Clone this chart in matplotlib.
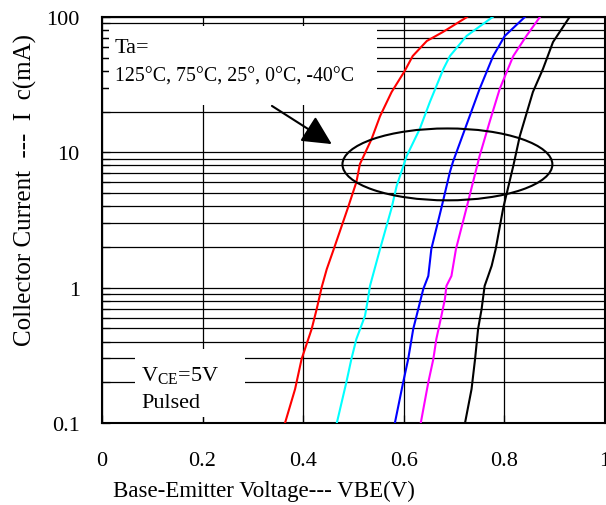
import numpy as np
import matplotlib
matplotlib.use('Agg')
import matplotlib.pyplot as plt
from matplotlib.patches import Rectangle, Ellipse
from matplotlib.ticker import LogLocator, FixedLocator, NullFormatter

plt.rcParams['font.family'] = ['Liberation Serif', 'DejaVu Serif']
plt.rcParams['mathtext.fontset'] = 'custom'
plt.rcParams['mathtext.rm'] = 'Liberation Serif'

# VBE (V) vs collector current (mA)
vbe_125 = [0.364, 0.384, 0.397, 0.417, 0.427, 0.437, 0.447, 0.461, 0.489, 0.506,
           0.513, 0.536, 0.553, 0.576, 0.602, 0.618, 0.646, 0.678, 0.726]
ic_125 = [0.1, 0.178, 0.297, 0.495, 0.695, 1.01, 1.37, 1.93, 3.88, 6.04,
          8.2, 12.5, 18.5, 27.9, 39.9, 51.5, 66.5, 77.5, 100]

vbe_75 = [0.467, 0.486, 0.496, 0.506, 0.523, 0.529, 0.533, 0.553, 0.576, 0.586,
          0.606, 0.632, 0.652, 0.679, 0.692, 0.725, 0.777]
ic_75 = [0.1, 0.2, 0.297, 0.418, 0.618, 0.824, 1.03, 1.93, 3.88, 5.64,
         9.4, 14.9, 23.5, 41.3, 51.5, 72.4, 100]

vbe_25 = [0.5825, 0.599, 0.609, 0.619, 0.629, 0.639, 0.649, 0.655, 0.675, 0.692,
          0.698, 0.722, 0.751, 0.778, 0.801, 0.841]
ic_25 = [0.1, 0.2, 0.297, 0.495, 0.695, 0.977, 1.22, 1.93, 3.88, 7.16,
         8.5, 14.9, 29.4, 51.5, 72.4, 100]

vbe_0 = [0.634, 0.649, 0.659, 0.665, 0.675, 0.682, 0.685, 0.695, 0.704, 0.725,
         0.738, 0.751, 0.771, 0.791, 0.818, 0.844, 0.871]
ic_0 = [0.1, 0.2, 0.297, 0.418, 0.618, 0.824, 1.03, 1.22, 1.93, 3.88,
        6.04, 9.4, 16.8, 29.4, 51.5, 72.4, 100]

vbe_m40 = [0.722, 0.735, 0.742, 0.748, 0.755, 0.761, 0.768, 0.775, 0.783, 0.798,
           0.818, 0.831, 0.857, 0.877, 0.897, 0.930]
ic_m40 = [0.1, 0.178, 0.297, 0.495, 0.695, 1.03, 1.22, 1.45, 1.93, 3.88,
          7.93, 13.2, 27.9, 41.3, 65.3, 100]

x_ticks = [0, 0.2, 0.4, 0.6, 0.8, 1]
x_tick_labels = ['0', '0.2', '0.4', '0.6', '0.8', '1']
y_ticks = [0.1, 1, 10, 100]
y_tick_labels = ['0.1', '1', '10', '100']

fig = plt.figure(figsize=(6.06, 5.06), dpi=100)
ax = fig.add_axes([0.1683, 0.162, 0.8297, 0.8024])

ax.set_yscale('log')
ax.set_xlim(0, 1)
ax.set_ylim(0.1, 100)
ax.set_axisbelow(True)

ax.xaxis.set_major_locator(FixedLocator(x_ticks))
ax.set_xticklabels(x_tick_labels)
ax.yaxis.set_major_locator(FixedLocator(y_ticks))
ax.set_yticklabels(y_tick_labels)
ax.yaxis.set_minor_locator(LogLocator(base=10, subs=np.arange(2, 10)))
ax.yaxis.set_minor_formatter(NullFormatter())

ax.grid(True, which='major', color='black', lw=0.9)
ax.grid(True, which='minor', axis='y', color='black', lw=0.9)
ax.tick_params(which='both', direction='in', length=6, width=0.9, labelsize=16,
               top=False, right=False)
ax.tick_params(axis='x', pad=20)
ax.tick_params(axis='y', pad=16)
for sp in ax.spines.values():
    sp.set_linewidth(1.5)

# white boxes hiding the grid behind the notes
ax.add_patch(Rectangle((0.014, 0.783), 0.533, 0.195, transform=ax.transAxes,
                       facecolor='white', edgecolor='none', zorder=1))
ax.add_patch(Rectangle((0.066, 0.015), 0.218, 0.167, transform=ax.transAxes,
                       facecolor='white', edgecolor='none', zorder=1))

ax.plot(vbe_125, ic_125, color='#ff0000', lw=1.5, zorder=3)
ax.plot(vbe_75, ic_75, color='#00ffff', lw=1.5, zorder=3)
ax.plot(vbe_25, ic_25, color='#0000ff', lw=1.5, zorder=3)
ax.plot(vbe_0, ic_0, color='#ff00ff', lw=1.5, zorder=3)
ax.plot(vbe_m40, ic_m40, color='black', lw=1.5, zorder=3)

ax.add_patch(Ellipse((0.687, 0.637), 0.4175, 0.177, transform=ax.transAxes,
                     facecolor='none', edgecolor='black', lw=1.5, zorder=4))
ax.annotate('', xy=(0.457, 0.687), xytext=(0.338, 0.781),
            xycoords='axes fraction', textcoords='axes fraction',
            arrowprops=dict(arrowstyle='-|>,head_length=1.0,head_width=0.5',
                            mutation_scale=18, color='black', lw=1.5,
                            shrinkA=0, shrinkB=0), zorder=4)

ax.text(0.025, 0.925, 'Ta=', transform=ax.transAxes, fontsize=16,
        va='center', ha='left', zorder=5)
ax.text(0.025, 0.855, '125°C, 75°C, 25°, 0°C, -40°C', transform=ax.transAxes,
        fontsize=14.3, va='center', ha='left', zorder=5)
ax.text(0.078, 0.12, r'$\mathrm{V_{CE}}$=5V', transform=ax.transAxes,
        fontsize=16, va='center', ha='left', zorder=5)
ax.text(0.078, 0.05, 'Pulsed', transform=ax.transAxes, fontsize=16,
        va='center', ha='left', zorder=5)

ax.set_xlabel('Base-Emitter Voltage--- VBE(V)', fontsize=16.5)
ax.xaxis.set_label_coords(0.322, -0.167)
ax.xaxis.label.set_va('center')
ax.set_ylabel('Collector Current  ---  I  c(mA)', fontsize=18, va='center')
ax.yaxis.set_label_coords(-0.153, 0.576)

plt.savefig('out.png', dpi=100)
